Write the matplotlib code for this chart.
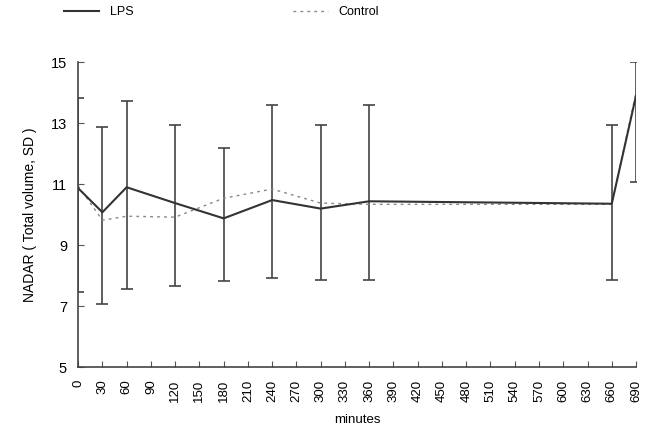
import matplotlib
matplotlib.use("Agg")
import matplotlib.pyplot as plt
import numpy as np

plt.rcParams['font.family'] = ['Liberation Sans', 'DejaVu Sans']

minutes = [0, 30, 60, 120, 180, 240, 300, 360, 660, 690]
lps = [10.87, 10.08, 10.9, 10.38, 9.88, 10.48, 10.2, 10.44, 10.36, 13.9]
control = [10.95, 9.82, 9.95, 9.92, 10.54, 10.84, 10.38, 10.34, 10.34, 14.0]
err_high = [13.82, 12.87, 13.72, 12.93, 12.18, 13.59, 12.93, 13.59, 12.93, 15.0]
err_low = [7.46, 7.07, 7.56, 7.66, 7.82, 7.92, 7.85, 7.85, 7.85, 11.07]
xticks = list(range(0, 691, 30))
yticks = [5, 7, 9, 11, 13, 15]

fig = plt.figure(figsize=(6.51, 4.32), dpi=100)
ax = fig.add_axes([0.12, 0.150, 0.857, 0.706])

ax.plot(minutes, control, linestyle=(0, (2, 3)), color='#888888', lw=1.0, label='Control', zorder=2)
ax.plot(minutes, lps, linestyle='-', color='#333333', lw=1.5, label='LPS', zorder=3)

yerr = [np.array(lps) - np.array(err_low), np.array(err_high) - np.array(lps)]
ax.errorbar(minutes, lps, yerr=yerr, fmt='none', ecolor='#444444', elinewidth=1.2,
            capsize=4, capthick=1.2, zorder=1, clip_on=True)

ax.set_xlim(0, 690)
ax.set_ylim(5, 15)
ax.set_xticks(xticks)
ax.set_xticklabels([str(t) for t in xticks], rotation=90, fontsize=9.5)
ax.set_yticks(yticks)
ax.set_yticklabels([str(t) for t in yticks], fontsize=10.5)
ax.tick_params(direction='in', length=4, color='#555555')
ax.tick_params(axis='x', pad=9)
ax.tick_params(axis='y', pad=8)
for s in ['top', 'right']:
    ax.spines[s].set_visible(False)
for s in ['left', 'bottom']:
    ax.spines[s].set_color('#444444')
    ax.spines[s].set_linewidth(1.2)

ax.set_ylabel('NADAR ( Total volume, SD )', fontsize=10, labelpad=10)
ax.set_xlabel('minutes', fontsize=9.5, labelpad=9)

h, l = ax.get_legend_handles_labels()
fig.legend([h[1], h[0]], [l[1], l[0]], loc='upper left', bbox_to_anchor=(0.081, 1.012),
           ncol=2, frameon=False, fontsize=9, columnspacing=12.7, handlelength=2.8, handletextpad=0.9)

fig.savefig('out.png', dpi=100)
